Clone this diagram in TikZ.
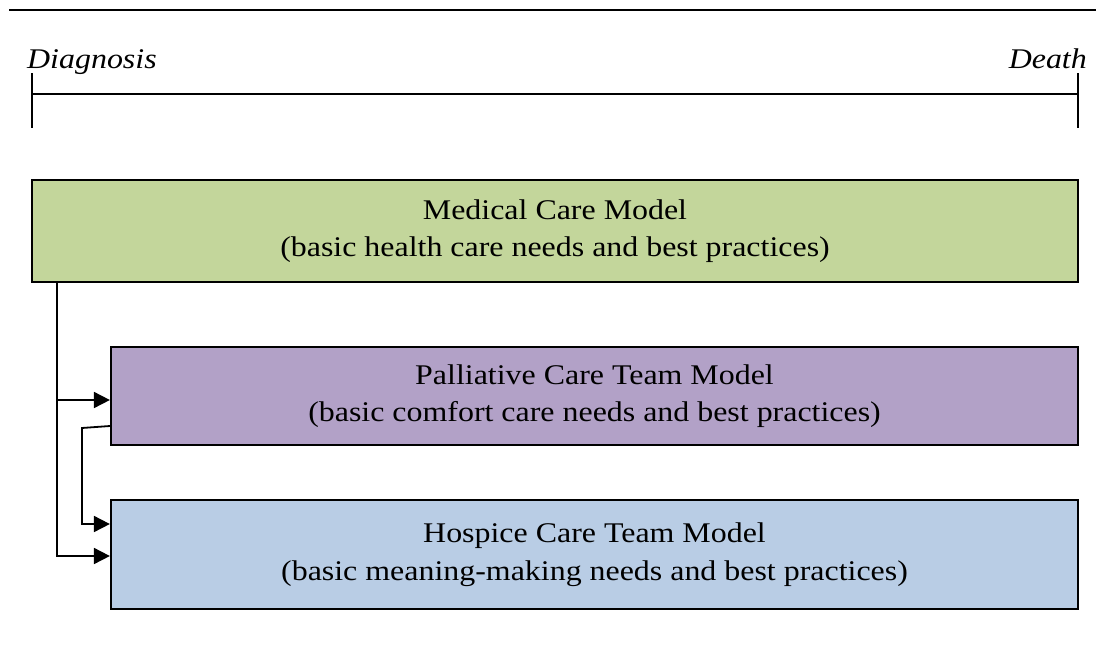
\documentclass[tikz,border=0pt]{standalone}
\usepackage{fontspec}
\setmainfont{Liberation Serif}[FakeStretch=1.12]
\usetikzlibrary{arrows.meta}
\definecolor{medgreen}{HTML}{C3D69B}
\definecolor{palpurple}{HTML}{B2A1C7}
\definecolor{hosblue}{HTML}{B9CDE5}
\tikzset{
  modelbox/.style={draw=black, line width=2.2pt, inner sep=0pt, align=center,
    font=\fontsize{28.5}{37.5}\selectfont},
  endlabel/.style={inner sep=0pt, font=\fontsize{28.5}{34}\selectfont\itshape},
  rule/.style={line width=1.8pt},
  conn/.style={line width=1.8pt, -{Triangle[length=16pt,width=16pt]}}
}
\begin{document}
\begin{tikzpicture}[x=1pt, y=-1pt]
\useasboundingbox (0,0) rectangle (1096,656);

% header rule
\draw[line width=2.2pt] (9,10) -- (1096,10);

% time span from diagnosis to death
\node[endlabel, anchor=base west] (diag) at (27,68) {Diagnosis};
\node[endlabel, anchor=base east] (death) at (1087,68) {Death};
\coordinate (tl) at (32,94);
\coordinate (tr) at (1078,94);
\draw[rule] (tl) -- (tr);
\draw[rule] (32,73) -- (32,128);
\draw[rule] (1078,73) -- (1078,128);

% care models
\node[modelbox, fill=medgreen, minimum width=1046pt, minimum height=102pt]
  (med) at (555,231) {Medical Care Model\\(basic health care needs and best practices)};
\node[modelbox, fill=palpurple, minimum width=967pt, minimum height=98pt]
  (pal) at (594.5,396) {Palliative Care Team Model\\(basic comfort care needs and best practices)};
\node[modelbox, fill=hosblue, minimum width=967pt, minimum height=109pt]
  (hos) at (594.5,554.5) {Hospice Care Team Model\\(basic meaning-making needs and best practices)};

% connectors
\coordinate (mdrop) at ([xshift=26pt]med.south west);
\draw[conn] (mdrop) |- ([yshift=-4pt]pal.west);
\draw[conn] (mdrop) |- ([yshift=-1.5pt]hos.west);
\draw[conn] ([yshift=-30pt]pal.west) -- ++(-28,2) |- ([yshift=30.5pt]hos.west);
\end{tikzpicture}
\end{document}
